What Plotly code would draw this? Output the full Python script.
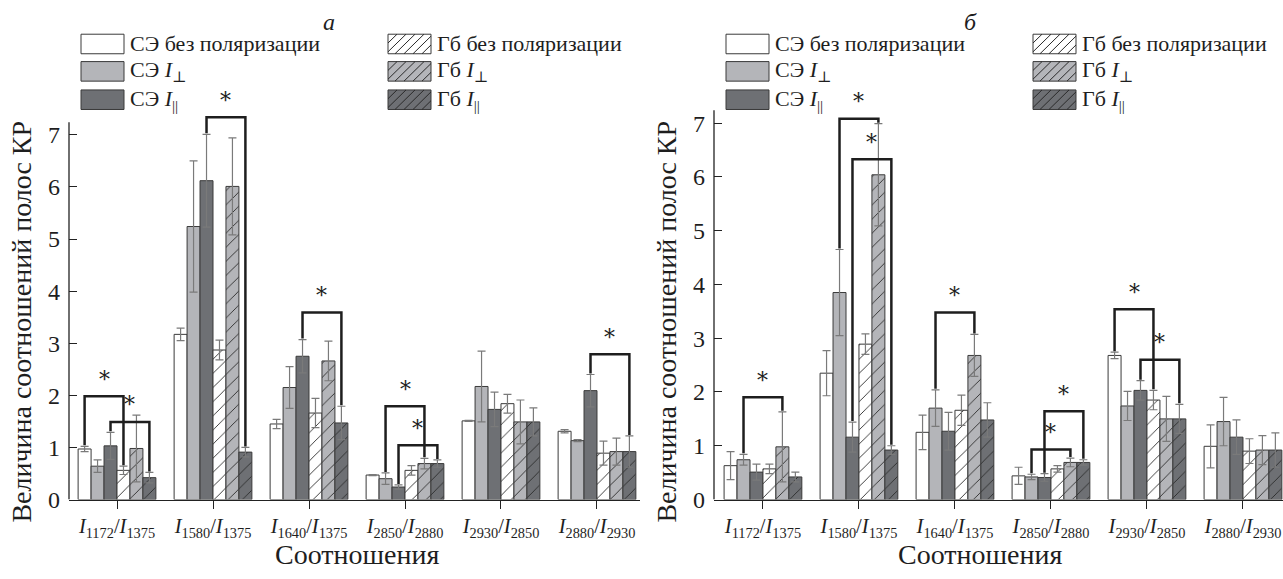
import plotly.graph_objects as go

W, H = 1283, 579
FONT = "Liberation Serif, Times New Roman, DejaVu Serif, serif"
STARFONT = "DejaVu Serif, Liberation Serif, serif"

# ---------------- data ----------------
categories = [
    "<i>I</i><sub>1172</sub>/<i>I</i><sub>1375</sub>",
    "<i>I</i><sub>1580</sub>/<i>I</i><sub>1375</sub>",
    "<i>I</i><sub>1640</sub>/<i>I</i><sub>1375</sub>",
    "<i>I</i><sub>2850</sub>/<i>I</i><sub>2880</sub>",
    "<i>I</i><sub>2930</sub>/<i>I</i><sub>2850</sub>",
    "<i>I</i><sub>2880</sub>/<i>I</i><sub>2930</sub>",
]
series_names = [
    "СЭ без поляризации",
    "СЭ <i>I</i><sub>⊥</sub>",
    "СЭ <i>I</i><sub>||</sub>",
    "Гб без поляризации",
    "Гб <i>I</i><sub>⊥</sub>",
    "Гб <i>I</i><sub>||</sub>",
]

# panel a
se_none_a = [0.97, 3.17, 1.45, 0.47, 1.51, 1.31]
se_none_a_err = [0.05, 0.12, 0.09, 0.01, 0.01, 0.03]
se_perp_a = [0.64, 5.24, 2.15, 0.40, 2.17, 1.13]
se_perp_a_err = [0.12, 1.26, 0.40, 0.11, 0.68, 0.02]
se_par_a = [1.03, 6.12, 2.75, 0.24, 1.73, 2.09]
se_par_a_err = [0.26, 0.89, 0.32, 0.04, 0.33, 0.31]
gb_none_a = [0.56, 2.87, 1.66, 0.56, 1.84, 0.89]
gb_none_a_err = [0.08, 0.19, 0.28, 0.09, 0.18, 0.23]
gb_perp_a = [0.98, 6.01, 2.66, 0.69, 1.49, 0.92]
gb_perp_a_err = [0.64, 0.93, 0.38, 0.10, 0.42, 0.26]
gb_par_a = [0.42, 0.91, 1.47, 0.69, 1.49, 0.92]
gb_par_a_err = [0.10, 0.09, 0.32, 0.07, 0.27, 0.30]

# panel б
se_none_b = [0.63, 2.35, 1.25, 0.44, 2.68, 0.99]
se_none_b_err = [0.26, 0.42, 0.32, 0.16, 0.06, 0.40]
se_perp_b = [0.74, 3.85, 1.70, 0.42, 1.74, 1.45]
se_perp_b_err = [0.10, 0.80, 0.34, 0.05, 0.27, 0.45]
se_par_b = [0.51, 1.16, 1.27, 0.41, 2.03, 1.16]
se_par_b_err = [0.15, 0.28, 0.35, 0.07, 0.18, 0.32]
gb_none_b = [0.57, 2.89, 1.66, 0.57, 1.85, 0.90]
gb_none_b_err = [0.09, 0.19, 0.28, 0.06, 0.18, 0.23]
gb_perp_b = [0.98, 6.04, 2.68, 0.69, 1.50, 0.92]
gb_perp_b_err = [0.65, 0.95, 0.39, 0.08, 0.42, 0.27]
gb_par_b = [0.42, 0.92, 1.48, 0.69, 1.50, 0.92]
gb_par_b_err = [0.09, 0.08, 0.32, 0.05, 0.27, 0.32]

# significance brackets: (category index, series i, series j, bracket height)
brackets_a = [(0, 0, 3, 1.98), (0, 2, 5, 1.49), (1, 2, 5, 7.34), (2, 2, 5, 3.59),
              (3, 1, 4, 1.79), (3, 2, 5, 1.04), (5, 2, 5, 2.79)]
brackets_b = [(0, 1, 4, 1.90), (1, 1, 4, 7.08), (1, 2, 5, 6.33), (2, 1, 4, 3.48),
              (3, 2, 5, 1.64), (3, 1, 4, 0.93), (4, 0, 3, 3.54), (4, 2, 5, 2.60)]

# ---------------- styles ----------------
fills = ["#ffffff", "#b4b5b9", "#6e7074", "#ffffff", "#b4b5b9", "#6e7074"]
hatched = [False, False, False, True, True, True]
OUTLINE = "#3a3a3a"
TXT = "#1e1e1e"
BARGAP = 0.19

panel_a = [(se_none_a, se_none_a_err), (se_perp_a, se_perp_a_err), (se_par_a, se_par_a_err),
           (gb_none_a, gb_none_a_err), (gb_perp_a, gb_perp_a_err), (gb_par_a, gb_par_a_err)]
panel_b = [(se_none_b, se_none_b_err), (se_perp_b, se_perp_b_err), (se_par_b, se_par_b_err),
           (gb_none_b, gb_none_b_err), (gb_perp_b, gb_perp_b_err), (gb_par_b, gb_par_b_err)]

xpos = list(range(len(categories)))
fig = go.Figure()

for panel, xa, ya in [(panel_a, "x", "y"), (panel_b, "x2", "y2")]:
    for k, (vals, errs) in enumerate(panel):
        pattern = dict(shape="/" if hatched[k] else "", fillmode="replace",
                       bgcolor=fills[k], fgcolor="#2a2a2a", size=10, solidity=0.09)
        fig.add_trace(go.Bar(
            x=xpos, y=vals, name=series_names[k], xaxis=xa, yaxis=ya,
            marker=dict(color=fills[k], line=dict(color=OUTLINE, width=1), pattern=pattern),
            error_y=dict(type="data", array=errs, color="#7a7a7a", thickness=1.2, width=4),
            showlegend=False,
        ))

n = len(series_names)
bw = (1 - BARGAP) / n


def bar_center(cat, k):
    return cat - (1 - BARGAP) / 2 + (k + 0.5) * bw


shapes = []
annotations = []


def add_brackets(brackets, panel, xa, ya):
    for cat, i, j, h in brackets:
        xi, xj = bar_center(cat, i), bar_center(cat, j)
        yi = panel[i][0][cat] + panel[i][1][cat] + 0.02
        yj = panel[j][0][cat] + panel[j][1][cat] + 0.02
        shapes.append(dict(type="path", xref=xa, yref=ya,
                           path=f"M{xi},{yi} L{xi},{h} L{xj},{h} L{xj},{yj}",
                           line=dict(color="#1e1e1e", width=2.5)))
        annotations.append(dict(x=(xi + xj) / 2, y=h + 0.05, xref=xa, yref=ya, text="*",
                                showarrow=False, xanchor="center", yanchor="bottom",
                                font=dict(family=STARFONT, size=22, color=TXT)))


add_brackets(brackets_a, panel_a, "x", "y")
add_brackets(brackets_b, panel_b, "x2", "y2")

# y-axis lines (only up to 7.24 like in the reference)
for xd, yr in [("x domain", "y"), ("x2 domain", "y2")]:
    shapes.append(dict(type="line", xref=xd, yref=yr, x0=0, x1=0, y0=0, y1=7.24,
                       line=dict(color="#222222", width=1.3)))


def px(x):
    return x / W


def py(y):
    return 1 - y / H


# manual legend
legend_rows = [45, 73, 102]
for off in [0, 645]:
    for col, x0 in enumerate([81, 388]):
        for r, yc in enumerate(legend_rows):
            k = col * 3 + r
            xl, xr = x0 + off, x0 + off + 43
            yt, yb = yc - 10, yc + 10
            shapes.append(dict(type="rect", xref="paper", yref="paper",
                               x0=px(xl), x1=px(xr), y0=py(yb), y1=py(yt),
                               fillcolor=fills[k], line=dict(color=OUTLINE, width=1)))
            if hatched[k]:
                segs = []
                step = 9
                c = -20
                while c < 43 + 20:
                    xa0, ya0 = xl + c, yb
                    xa1, ya1 = xl + c + 20, yt
                    if xa0 < xl:
                        d = xl - xa0
                        xa0, ya0 = xl, yb - d
                    if xa1 > xr:
                        d = xa1 - xr
                        xa1, ya1 = xr, yt + d
                    if xa0 < xa1 and ya0 > ya1:
                        segs.append(f"M{px(xa0)},{py(ya0)} L{px(xa1)},{py(ya1)}")
                    c += step
                shapes.append(dict(type="path", xref="paper", yref="paper", path=" ".join(segs),
                                   line=dict(color="#2a2a2a", width=1)))
            annotations.append(dict(x=px(xr + 4), y=py(yc), xref="paper", yref="paper",
                                    text=series_names[k], showarrow=False,
                                    xanchor="left", yanchor="middle",
                                    font=dict(family=FONT, size=22, color=TXT)))

# panel letters
for letter, xc in [("а", 329), ("б", 970)]:
    annotations.append(dict(x=px(xc), y=py(22), xref="paper", yref="paper",
                            text=f"<i>{letter}</i>", showarrow=False,
                            xanchor="center", yanchor="middle",
                            font=dict(family=FONT, size=24, color=TXT)))

# axis titles
for xc in [22, 667]:
    annotations.append(dict(x=px(xc), y=py(329), xref="paper", yref="paper",
                            text="Величина соотношений полос КР", textangle=-90,
                            showarrow=False, xanchor="center", yanchor="middle",
                            font=dict(family=FONT, size=28, color=TXT)))
for xc in [357, 980]:
    annotations.append(dict(x=px(xc), y=py(567), xref="paper", yref="paper",
                            text="Соотношения", showarrow=False,
                            xanchor="center", yanchor="middle",
                            font=dict(family=FONT, size=28, color=TXT)))

xcommon = dict(tickmode="array", tickvals=xpos, ticktext=categories, showline=True,
               linecolor="#222222", linewidth=1.3, ticks="outside", ticklen=8,
               tickcolor="#222222", showgrid=False, zeroline=False,
               ticklabeloverflow="allow",
               tickfont=dict(family=FONT, size=20.5, color=TXT))
ycommon = dict(range=[0, 7.8], tickmode="array", tickvals=list(range(8)), showline=False,
               ticks="inside", ticklen=8, tickcolor="#222222", showgrid=False,
               zeroline=False, ticklabelstandoff=8,
               tickfont=dict(family=FONT, size=24, color=TXT))

fig.update_layout(
    width=W, height=H,
    margin=dict(l=0, r=0, t=0, b=0),
    paper_bgcolor="white", plot_bgcolor="white",
    font=dict(family=FONT, color=TXT),
    barmode="group", bargap=BARGAP, bargroupgap=0,
    xaxis=dict(domain=[69 / W, 640 / W], range=[-0.5, 5.448], anchor="y", **xcommon),
    yaxis=dict(domain=[68 / H, (579 - 95.3) / H], anchor="x", **ycommon),
    xaxis2=dict(domain=[714 / W, 1.0], range=[-0.51, 5.417], anchor="y2", **xcommon),
    yaxis2=dict(domain=[68 / H, (579 - 82) / H], anchor="x2", **ycommon),
    shapes=shapes,
    annotations=annotations,
)

fig.write_html("out.html", config={"displayModeBar": False},
               post_script="document.body.style.margin='0';")
